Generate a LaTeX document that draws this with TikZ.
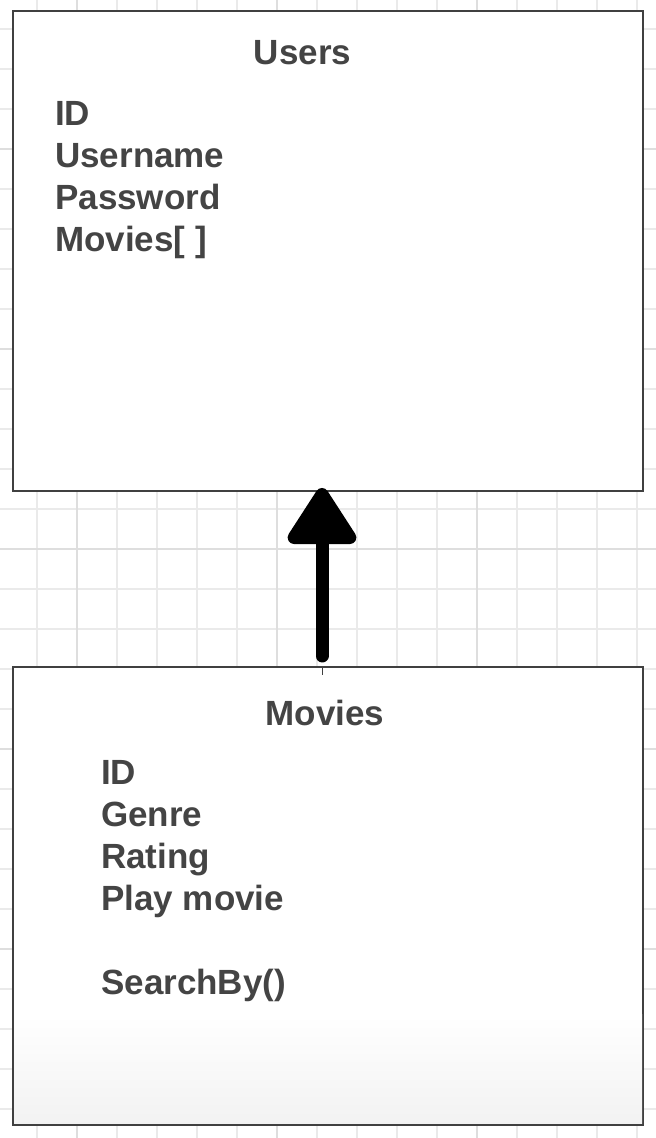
\documentclass[tikz,border=0pt]{standalone}
\usepackage{fontspec}
\setmainfont{Liberation Sans}
\usetikzlibrary{arrows.meta}
\definecolor{boxcolor}{HTML}{404040}
\definecolor{textcolor}{HTML}{444444}
\definecolor{gridcolor}{HTML}{EAEAEA}
\definecolor{majorgridcolor}{HTML}{DEDEDE}
\def \cellsize {40}
\def \arrowx {-6pt}
\tikzset{
  classbox/.style={draw=boxcolor, line width=2pt, fill=white, minimum width=630pt, inner sep=0pt, outer sep=0pt},
  classtitle/.style={text=textcolor, font=\bfseries\fontsize{35}{42}\selectfont, anchor=base, inner sep=0pt},
  classfield/.style={text=textcolor, font=\bfseries\fontsize{35}{42}\selectfont, anchor=base west, inner sep=0pt},
  inherits/.style={draw=black, line width=13pt, line cap=round, line join=round, -{Triangle[length=62pt,width=76pt,round]}},
}

\begin{document}
\begin{tikzpicture}[x=1pt,y=1pt]
\useasboundingbox (0,0) rectangle (656,1138);
\fill[white] (0,0) rectangle (656,1138);
% Draw the grid
\foreach \i in {0,...,15}
  \draw[gridcolor, line width=1.5pt] ({37+\i*\cellsize},0) -- ({37+\i*\cellsize},1138);
\foreach \j in {0,...,27}
  \draw[gridcolor, line width=1.5pt] (0,{29+\j*\cellsize}) -- (656,{29+\j*\cellsize});
% every fifth line a little darker
\foreach \i in {1,6,11}
  \draw[majorgridcolor, line width=1.5pt] ({37+\i*\cellsize},0) -- ({37+\i*\cellsize},1138);
\foreach \j in {4,9,...,24}
  \draw[majorgridcolor, line width=1.5pt] (0,{29+\j*\cellsize}) -- (656,{29+\j*\cellsize});

% Draw the class boxes
\node[classbox, minimum height=480pt] (users) at (328,887) {};
\node[classbox, minimum height=458pt] (movies) at (328,242) {};
% light fade at the bottom of the Movies box
\shade[top color=white, bottom color=gray!10]
  ([shift={(1pt,1pt)}]movies.south west) rectangle ([shift={(-1pt,110pt)}]movies.south east);

% Draw the Users text
\node[classtitle] (userstitle) at (302.5,1073) {Users};
\foreach \f [count=\i from 0] in {ID,Username,Password,Movies[ ]}
  \node[classfield] (usersfield\i) at (55,{1012-\i*42}) {\f};

% Draw the Movies text
\node[classtitle] (moviestitle) at (325,412) {Movies};
\foreach \f/\k in {ID/0,Genre/1,Rating/2,Play movie/3,SearchBy()/5}
  \node[classfield] (moviesfield\k) at (101,{353-\k*42}) {\f};

% Draw the arrow from Movies up to Users
\draw[inherits, shorten <=11pt, shorten >=-3pt] ([xshift=\arrowx]movies.north) -- ([xshift=\arrowx]users.south);
\draw[boxcolor, line width=1pt] ([xshift=\arrowx]movies.north) -- ++(0,-8);
\end{tikzpicture}
\end{document}
